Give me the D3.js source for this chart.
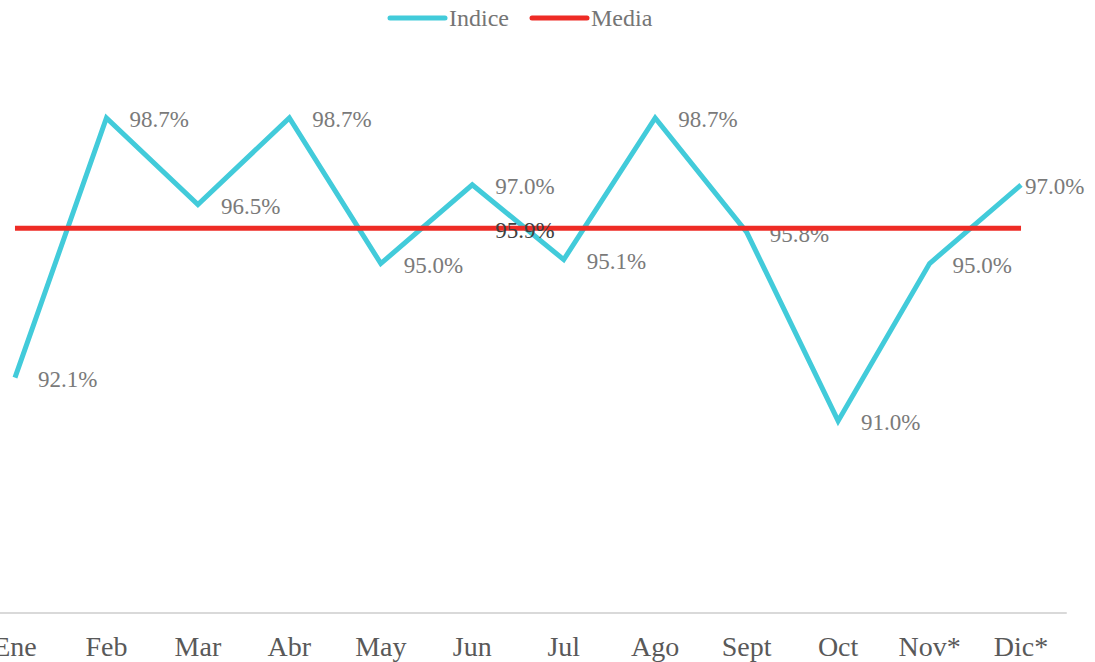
<!DOCTYPE html>
<html>
<head>
<meta charset="utf-8">
<script src="https://cdn.jsdelivr.net/npm/d3@7"></script>
<style>
  body { margin: 0; background: #fff; }
  svg { display: block; }
</style>
</head>
<body>
<svg id="chart" width="1095" height="662"></svg>
<script>
const months = ['Ene', 'Feb', 'Mar', 'Abr', 'May', 'Jun', 'Jul', 'Ago', 'Sept', 'Oct', 'Nov*', 'Dic*'];
const indice = [92.1, 98.7, 96.5, 98.7, 95.0, 97.0, 95.1, 98.7, 95.8, 91.0, 95.0, 97.0];
const media = [95.9, 95.9, 95.9, 95.9, 95.9, 95.9, 95.9, 95.9, 95.9, 95.9, 95.9, 95.9];
const mediaLabelAt = 5; // only one label shown for the average

const svg = d3.select('#chart');
const font = '"Liberation Serif", "Times New Roman", Times, serif';

const x = d3.scaleBand()
  .domain(months)
  .range([-30.75, 1066.75]);

const y = d3.scaleLinear()
  .domain([86.12, 100])
  .range([613, 66.8]);

const cx = d => x(d) + x.bandwidth() / 2;

// axis
const xAxis = svg.append('g')
  .attr('transform', 'translate(0,613)')
  .call(d3.axisBottom(x).tickSize(0).tickPadding(23));
xAxis.select('.domain')
  .attr('d', 'M0,0H1066.75')
  .attr('stroke', '#d9d9d9')
  .attr('stroke-width', 2);
xAxis.selectAll('text')
  .attr('font-family', font)
  .attr('font-size', 28)
  .attr('fill', '#595959');

const line = d3.line()
  .x((d, i) => cx(months[i]))
  .y(d => y(d));

// Indice labels (drawn under the average line)
svg.append('g')
  .selectAll('text')
  .data(indice)
  .join('text')
    .attr('x', (d, i) => cx(months[i]) + (i === months.length - 1 ? 4 : 23))
    .attr('y', d => y(d) + 2)
    .attr('dominant-baseline', 'central')
    .attr('font-family', font)
    .attr('font-size', 23)
    .attr('fill', '#7a7a7a')
    .text(d => d.toFixed(1) + '%');

svg.append('path')
  .datum(indice)
  .attr('fill', 'none')
  .attr('stroke', '#42CBDA')
  .attr('stroke-width', 5)
  .attr('d', line);

svg.append('path')
  .datum(media)
  .attr('fill', 'none')
  .attr('stroke', '#EE2B25')
  .attr('stroke-width', 5)
  .attr('d', line);

svg.append('text')
  .attr('x', cx(months[mediaLabelAt]) + 23)
  .attr('y', y(media[mediaLabelAt]) + 2)
  .attr('dominant-baseline', 'central')
  .attr('font-family', font)
  .attr('font-size', 23)
  .attr('fill', '#404040')
  .text(media[mediaLabelAt].toFixed(1) + '%');

// legend
const legendItems = [
  { name: 'Indice', color: '#42CBDA', x: 390 },
  { name: 'Media', color: '#EE2B25', x: 532 }
];
const legend = svg.append('g')
  .selectAll('g')
  .data(legendItems)
  .join('g')
    .attr('transform', d => `translate(${d.x},18)`);
legend.append('line')
  .attr('x1', 0).attr('x2', 55)
  .attr('stroke', d => d.color)
  .attr('stroke-width', 5)
  .attr('stroke-linecap', 'round');
legend.append('text')
  .attr('x', 59)
  .attr('dominant-baseline', 'central')
  .attr('font-family', font)
  .attr('font-size', 24)
  .attr('fill', '#757575')
  .text(d => d.name);
</script>
</body>
</html>
